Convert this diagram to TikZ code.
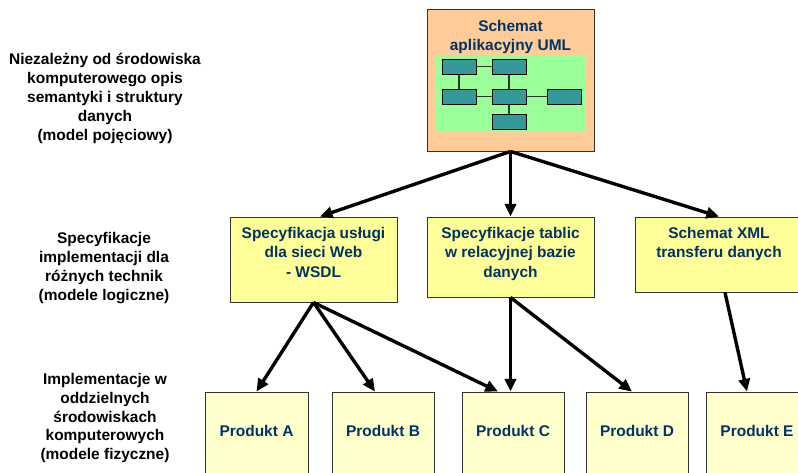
\documentclass[tikz,border=0pt]{standalone}
\usepackage{fontspec}
\setmainfont{Liberation Sans}
\usetikzlibrary{positioning,arrows.meta}
\definecolor{umlorange}{RGB}{255,204,153}
\definecolor{umlgreen}{RGB}{153,255,153}
\definecolor{umlteal}{RGB}{51,153,153}
\definecolor{specyellow}{RGB}{255,255,153}
\definecolor{prodyellow}{RGB}{255,255,204}
\definecolor{textblue}{RGB}{0,51,102}

\begin{document}
\begin{tikzpicture}[x=0.025cm, y=-0.025cm,
    every node/.style={font=\bfseries\fontsize{11}{14}\selectfont},
    box/.style={draw=black!80, line width=0.6pt, inner sep=0pt},
    bluetext/.style={text=textblue, align=center, inner sep=0pt},
    sidetext/.style={align=center, inner sep=0pt, font=\bfseries\fontsize{11}{13.5}\selectfont},
    tabbox/.style={draw=black, line width=0.6pt, fill=umlteal, minimum width=0.85cm, minimum height=0.375cm, inner sep=0pt},
    link/.style={draw=black!80, line width=0.8pt},
    flow/.style={-{Triangle[length=9pt,width=8pt]}, line width=2.4pt}]

    \useasboundingbox (0,0) rectangle (798,473);

    % === Left column: model levels ===
    \node[sidetext] (conceptual) at (105,98) {Niezależny od środowiska\\komputerowego opis\\semantyki i struktury\\danych\\(model pojęciowy)};
    \node[sidetext] (logical) at (104,268) {Specyfikacje\\implementacji dla\\różnych technik\\(modele logiczne)};
    \node[sidetext] (physical) at (105,418) {Implementacje w\\oddzielnych\\środowiskach\\komputerowych\\(modele fizyczne)};

    % === Top: application schema ===
    \node[box,fill=umlorange,minimum width=4.175cm,minimum height=3.55cm] (uml) at (510.5,80) {};
    \node[bluetext,below=0.275cm of uml.north] (umltxt) {Schemat\\aplikacyjny UML};
    \node[fill=umlgreen,minimum width=3.75cm,minimum height=1.9cm,inner sep=0pt] (umlpic) at (511,93) {};
    \node[tabbox] (t1) at (459,66.5) {};
    \node[tabbox] (t2) at (509,66.5) {};
    \node[tabbox] (t3) at (459,96.5) {};
    \node[tabbox] (t4) at (509,96.5) {};
    \node[tabbox] (t5) at (564.5,96.5) {};
    \node[tabbox] (t6) at (509,122) {};
    \draw[link] (t1) -- (t2);
    \draw[link] (t1) -- (t3);
    \draw[link] (t2) -- (t4);
    \draw[link] (t3) -- (t4);
    \draw[link] (t4) -- (t5);
    \draw[link] (t4) -- (t6);

    % === Middle line – 3 specifications ===
    \node[box,fill=specyellow,minimum width=4.175cm,minimum height=2.125cm] (wsdl) at (313.5,259.5) {};
    \node[bluetext,below=0.25cm of wsdl.north] (wsdltxt) {Specyfikacja usługi\\dla sieci Web\\- WSDL};
    \node[box,fill=specyellow,minimum width=4.175cm,minimum height=2cm] (tables) at (510.5,257) {};
    \node[bluetext,below=0.25cm of tables.north] (tablestxt) {Specyfikacje tablic\\w relacyjnej bazie\\danych};
    \node[box,fill=specyellow,minimum width=4.2cm,minimum height=1.875cm] (xml) at (719,254.5) {};
    \node[bluetext,below=0.25cm of xml.north] (xmltxt) {Schemat XML\\transferu danych};

    % === Lower line – 5 products ===
    \node[box,fill=prodyellow,minimum width=2.575cm,minimum height=2.5cm] (prodA) at (256.5,442) {};
    \node[box,fill=prodyellow,minimum width=2.55cm,minimum height=2.5cm] (prodB) at (383,442) {};
    \node[box,fill=prodyellow,minimum width=2.55cm,minimum height=2.5cm] (prodC) at (513,442) {};
    \node[box,fill=prodyellow,minimum width=2.55cm,minimum height=2.5cm] (prodD) at (637,442) {};
    \node[box,fill=prodyellow,minimum width=2.55cm,minimum height=2.5cm] (prodE) at (757,442) {};
    \node[bluetext] (prodAtxt) at (256.5,431) {Produkt A};
    \node[bluetext] (prodBtxt) at (383,431) {Produkt B};
    \node[bluetext] (prodCtxt) at (513,431) {Produkt C};
    \node[bluetext] (prodDtxt) at (637,431) {Produkt D};
    \node[bluetext] (prodEtxt) at (757,431) {Produkt E};

    % === Arrows ===
    \draw[flow] (uml.south) -- ([xshift=0.16cm]wsdl.north);
    \draw[flow] (uml.south) -- (tables.north);
    \draw[flow] (uml.south) -- (xml.north);
    \draw[flow] (wsdl.south) -- (prodA.north);
    \draw[flow] (wsdl.south) -- ([xshift=-0.2cm]prodB.north);
    \draw[flow] (wsdl.south) -- ([xshift=-0.375cm]prodC.north);
    \draw[flow] (tables.south) -- (tables.south |- prodC.north);
    \draw[flow] (tables.south) -- ([xshift=-0.125cm]prodD.north);
    \draw[flow] ([xshift=0.15cm]xml.south) -- ([xshift=-0.25cm]prodE.north);
\end{tikzpicture}
\end{document}
